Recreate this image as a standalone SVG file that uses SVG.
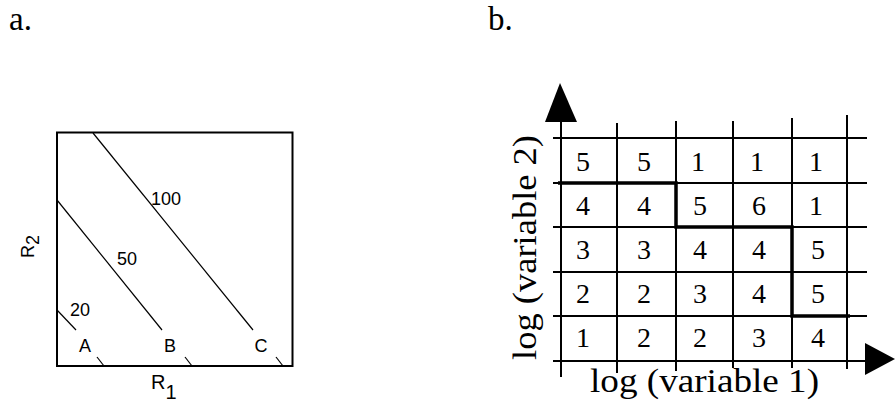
<svg xmlns="http://www.w3.org/2000/svg" width="895" height="404" viewBox="0 0 895 404">
<style>
.serif{font-family:"Liberation Serif","Times New Roman",serif;fill:#000}
.sans{font-family:"Liberation Sans",Arial,sans-serif;fill:#000}
.thin{stroke:#000;stroke-width:1.2;fill:none}
.grid{stroke:#000;stroke-width:2;fill:none}
.dig{font-size:28px;text-anchor:middle}
.lab{font-size:18px}
</style>
<rect width="895" height="404" fill="#fff"/>
<text class="serif" x="9" y="30" font-size="33">a.</text>
<text class="serif" x="488" y="30" font-size="33">b.</text>

<g id="panel-a">
  <rect x="57" y="132.5" width="235.5" height="233.5" fill="none" stroke="#000" stroke-width="2"/>
  <g id="contours">
    <line class="thin" x1="93" y1="133" x2="253" y2="330"/>
    <line class="thin" x1="276" y1="357" x2="283" y2="366"/>
    <line class="thin" x1="57" y1="200" x2="162" y2="330"/>
    <line class="thin" x1="185" y1="357" x2="192" y2="366"/>
    <line class="thin" x1="57" y1="310" x2="76" y2="330"/>
    <line class="thin" x1="97" y1="357" x2="104" y2="366"/>
  </g>
  <text class="sans lab" x="151" y="205">100</text>
  <text class="sans lab" x="117" y="265">50</text>
  <text class="sans lab" x="70" y="316">20</text>
  <text class="sans lab" x="85" y="352" text-anchor="middle">A</text>
  <text class="sans lab" x="170" y="352" text-anchor="middle">B</text>
  <text class="sans lab" x="261" y="352" text-anchor="middle">C</text>
  <text class="sans" x="151" y="389" font-size="20">R<tspan dy="10">1</tspan></text>
  <text class="sans" font-size="18" transform="translate(34,258) rotate(-90)">R<tspan dy="5">2</tspan></text>
</g>

<g id="panel-b">
  <g id="grid">
    <line class="grid" x1="553" y1="138" x2="867" y2="138"/>
    <line class="grid" x1="553" y1="183" x2="867" y2="183"/>
    <line class="grid" x1="553" y1="227" x2="867" y2="227"/>
    <line class="grid" x1="553" y1="272" x2="867" y2="272"/>
    <line class="grid" x1="553" y1="316" x2="867" y2="316"/>
    <line class="grid" x1="553" y1="361" x2="868" y2="361"/>
    <line class="grid" x1="561" y1="118" x2="561" y2="377"/>
    <line class="grid" x1="617" y1="123" x2="617" y2="373"/>
    <line class="grid" x1="676" y1="121" x2="676" y2="371"/>
    <line class="grid" x1="733" y1="121" x2="733" y2="368"/>
    <line class="grid" x1="792" y1="118" x2="792" y2="368"/>
    <line class="grid" x1="847" y1="115" x2="847" y2="369"/>
  </g>
  <polygon points="545,122 577,122 560,83" fill="#000"/>
  <polygon points="865,343 865,375 895,359" fill="#000"/>
  <polyline points="558,183 676,183 676,227 792,227 792,316 850,316" fill="none" stroke="#000" stroke-width="3.5"/>
  <g id="cells" class="serif dig">
    <text x="583" y="171">5</text><text x="644" y="171">5</text><text x="698" y="171">1</text><text x="757" y="171">1</text><text x="816" y="171">1</text>
    <text x="583" y="215">4</text><text x="644" y="215">4</text><text x="700" y="215">5</text><text x="759" y="215">6</text><text x="816" y="215">1</text>
    <text x="583" y="259">3</text><text x="644" y="259">3</text><text x="700" y="259">4</text><text x="759" y="259">4</text><text x="818" y="259">5</text>
    <text x="583" y="303">2</text><text x="644" y="303">2</text><text x="700" y="303">3</text><text x="759" y="303">4</text><text x="818" y="303">5</text>
    <text x="583" y="347">1</text><text x="644" y="347">2</text><text x="700" y="347">2</text><text x="759" y="347">3</text><text x="818" y="347">4</text>
  </g>
  <text class="serif" x="704.5" y="392" font-size="34" text-anchor="middle" textLength="229" lengthAdjust="spacingAndGlyphs">log (variable 1)</text>
  <text class="serif" font-size="34" text-anchor="middle" textLength="225" lengthAdjust="spacingAndGlyphs" transform="translate(536,247.5) rotate(-90)">log (variable 2)</text>
</g>
</svg>
